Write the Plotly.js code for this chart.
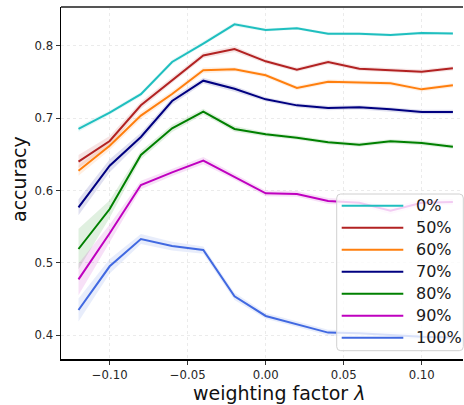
<!DOCTYPE html>
<html><head><meta charset="utf-8">
<script src="https://cdn.plot.ly/plotly-3.0.1.min.js"></script>
<style>html,body{margin:0;padding:0;background:#fff}</style>
</head><body><div id="chart" style="width:464px;height:405px"></div>
<script>
const lambdas = [-0.12,-0.10,-0.08,-0.06,-0.04,-0.02,0.00,0.02,0.04,0.06,0.08,0.10,0.12];
const seriesNames = ['0%','50%','60%','70%','80%','90%','100%'];
const acc0   = [0.685,0.7075,0.733,0.7775,0.803,0.8295,0.8217,0.824,0.8166,0.8166,0.8148,0.8175,0.817];
const acc50  = [0.640,0.6684,0.7177,0.7526,0.7866,0.7954,0.7784,0.7669,0.7775,0.7683,0.766,0.7641,0.7687];
const acc60  = [0.6274,0.6619,0.7034,0.7333,0.766,0.7674,0.7591,0.7416,0.7503,0.7489,0.748,0.7397,0.7453];
const acc70  = [0.5768,0.6343,0.6739,0.7236,0.7517,0.7405,0.7259,0.7176,0.714,0.7149,0.7121,0.7084,0.7084];
const acc80  = [0.5192,0.5744,0.649,0.6859,0.7089,0.685,0.6776,0.673,0.6665,0.6633,0.6679,0.6656,0.6605];
const acc90  = [0.4773,0.5409,0.6076,0.6251,0.6412,0.619,0.5961,0.5952,0.5855,0.5832,0.5722,0.5832,0.5841];
const acc100 = [0.4349,0.4953,0.533,0.5233,0.5178,0.4538,0.4267,0.4156,0.4037,0.4027,0.4,0.3981,0.397];
// half-width of the shaded spread band
const err0   = [0.004,0.003,0.003,0.003,0.003,0.003,0.002,0.002,0.002,0.002,0.002,0.002,0.002];
const err50  = [0.009,0.007,0.005,0.004,0.004,0.004,0.003,0.003,0.003,0.003,0.003,0.003,0.003];
const err60  = [0.007,0.006,0.005,0.004,0.004,0.003,0.003,0.003,0.003,0.003,0.003,0.003,0.003];
const err70  = [0.011,0.009,0.006,0.005,0.004,0.004,0.003,0.003,0.003,0.003,0.003,0.003,0.003];
const err80  = [0.028,0.012,0.006,0.005,0.004,0.004,0.003,0.003,0.003,0.003,0.003,0.003,0.003];
const err90  = [0.022,0.012,0.006,0.005,0.005,0.004,0.004,0.004,0.004,0.004,0.005,0.004,0.004];
const err100 = [0.016,0.010,0.007,0.006,0.005,0.005,0.004,0.004,0.004,0.004,0.004,0.004,0.004];
const xTicks = [-0.10,-0.05,0.00,0.05,0.10];
const yTicks = [0.4,0.5,0.6,0.7,0.8];

const means = [acc0,acc50,acc60,acc70,acc80,acc90,acc100];
const errs  = [err0,err50,err60,err70,err80,err90,err100];
const colors = ['#1fbfbf','#b22222','#ff7f0e','#000080','#008000','#bf00bf','#4169e1'];
const rgbs = ['31,191,191','178,34,34','255,127,14','0,0,128','0,128,0','191,0,191','65,105,225'];

const traces = [];
means.forEach((m,i)=>{
  const up = m.map((v,k)=>v+errs[i][k]);
  const lo = m.map((v,k)=>v-errs[i][k]);
  traces.push({x: lambdas.concat(lambdas.slice().reverse()), y: up.concat(lo.slice().reverse()),
    type:'scatter', mode:'lines', fill:'toself', fillcolor:'rgba('+rgbs[i]+',0.12)',
    line:{width:0}, hoverinfo:'skip', showlegend:false});
});
means.forEach((m,i)=>{
  traces.push({x: lambdas, y: m, type:'scatter', mode:'lines', name: seriesNames[i],
    line:{color: colors[i], width: 2}, showlegend:false});
});

const L=61, R=463, T=7, B=359;
const px = p => (p-L)/(R-L);
const py = p => (B-p)/(B-T);

const shapes = [
  {type:'line', xref:'paper', yref:'paper', x0:0, x1:1, y0:1, y1:1, line:{color:'#555', width:2}, layer:'above'}
];
// legend box with rounded corners
const bx0=px(336.7), bx1=px(463.3), by0=py(350.7), by1=py(194);
const rx=4/(R-L), ry=4/(B-T);
shapes.push({type:'path', xref:'paper', yref:'paper', layer:'above',
  path:`M${bx0+rx},${by1} L${bx1-rx},${by1} Q${bx1},${by1} ${bx1},${by1-ry} L${bx1},${by0+ry} Q${bx1},${by0} ${bx1-rx},${by0} L${bx0+rx},${by0} Q${bx0},${by0} ${bx0},${by0+ry} L${bx0},${by1-ry} Q${bx0},${by1} ${bx0+rx},${by1} Z`,
  fillcolor:'rgba(255,255,255,0.8)', line:{color:'#d0d0d0', width:1}});
const annotations = [];
seriesNames.forEach((n,i)=>{
  const yy = py(205.7 + 22*i);
  shapes.push({type:'line', xref:'paper', yref:'paper', layer:'above', x0:px(341.7), x1:px(403.3), y0:yy, y1:yy,
    line:{color: colors[i], width:2}});
  annotations.push({xref:'paper', yref:'paper', x:px(414), y:yy, xanchor:'left', yanchor:'middle', showarrow:false,
    text:n, font:{family:'DejaVu Sans', size:16, color:'#1a1a1a'}});
});
annotations.push({xref:'paper', yref:'paper', x:px(279), y:py(393), xanchor:'center', yanchor:'middle', showarrow:false,
  text:'weighting factor <i>λ</i>', font:{family:'DejaVu Sans', size:19, color:'#111'}});
annotations.push({xref:'paper', yref:'paper', x:px(19), y:py(179), xanchor:'center', yanchor:'middle', showarrow:false,
  textangle:-90, text:'accuracy', font:{family:'DejaVu Sans', size:19, color:'#111'}});

const layout = {
  width:464, height:405,
  margin:{l:L, r:464-R, t:T, b:405-B, pad:0},
  paper_bgcolor:'#fff', plot_bgcolor:'#fff',
  font:{family:'DejaVu Sans', color:'#262626'},
  xaxis:{range:[-0.13122,0.12647], tickvals:xTicks, tickformat:'.2f', ticks:'outside', ticklen:4, tickcolor:'#333',
    showline:true, linecolor:'#000', linewidth:1.5, showgrid:true, gridcolor:'#ebebeb', griddash:'dot', gridwidth:1,
    zeroline:false, tickfont:{size:11.7, color:'#262626'}},
  yaxis:{range:[0.36727,0.85345], tickvals:yTicks, tickformat:'.1f', ticks:'outside', ticklen:4, tickcolor:'#333',
    showline:true, linecolor:'#000', linewidth:1.5, showgrid:true, gridcolor:'#ebebeb', griddash:'dot', gridwidth:1,
    zeroline:false, tickfont:{size:11.7, color:'#262626'}},
  shapes: shapes, annotations: annotations, showlegend:false
};
Plotly.newPlot('chart', traces, layout, {staticPlot:true, displayModeBar:false});
</script></body></html>
